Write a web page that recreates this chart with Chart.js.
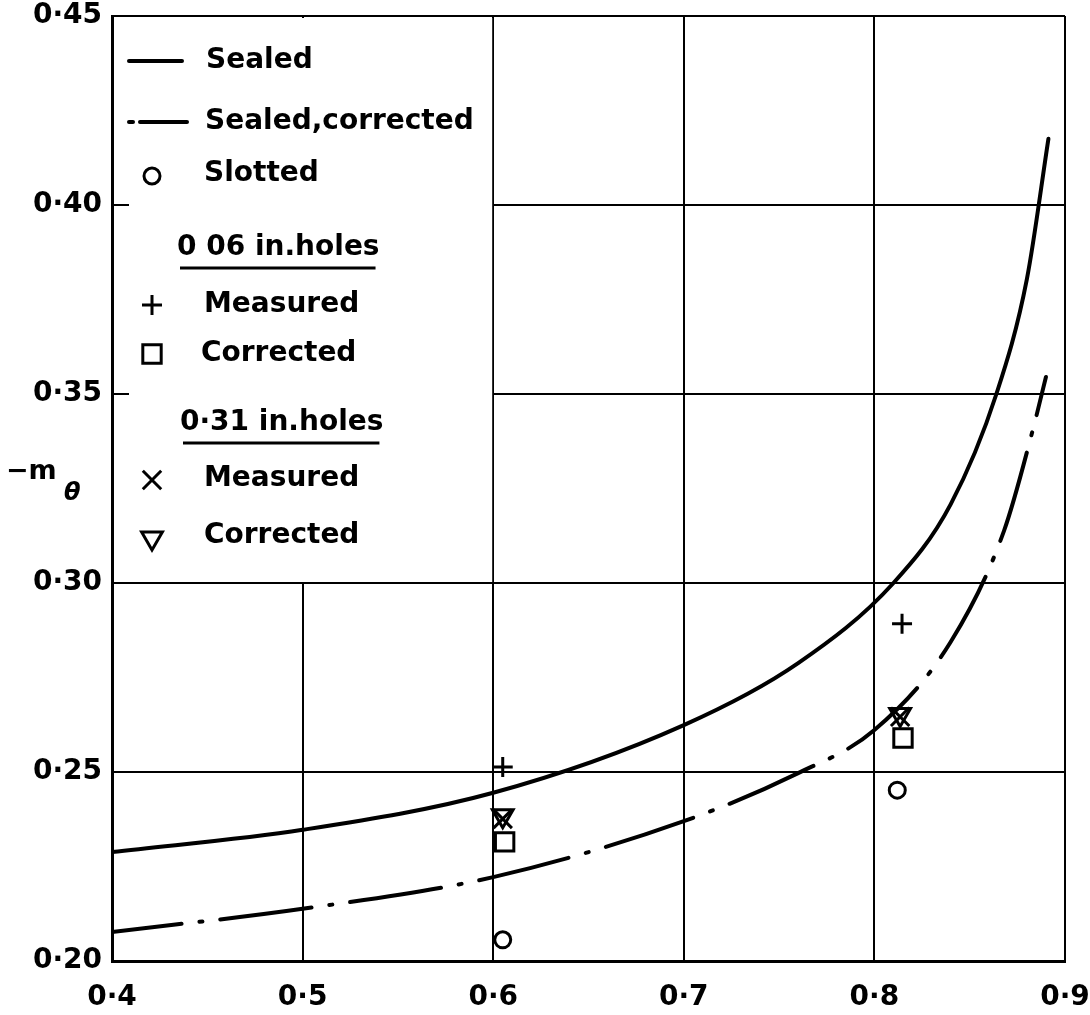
<!DOCTYPE html>
<html>
<head>
<meta charset="utf-8">
<script src="https://cdn.jsdelivr.net/npm/chart.js@4.4.1/dist/chart.umd.min.js"></script>
<style>
  html, body { margin: 0; padding: 0; background: #fff; }
  #wrap { width: 1090px; height: 1015px; }
</style>
</head>
<body>
<div id="wrap"><canvas id="c" width="1090" height="1015"></canvas></div>
<script>
// Axis tick labels
const xTickLabels = ['0·4', '0·5', '0·6', '0·7', '0·8', '0·9'];
const yTickLabels = ['0·20', '0·25', '0·30', '0·35', '0·40', '0·45'];

// Sealed tunnel curve
const sealedX = [0.400, 0.500, 0.600, 0.700, 0.760, 0.810, 0.840, 0.864, 0.880, 0.8913];
const sealedY = [0.2288, 0.2347, 0.2445, 0.2624, 0.2788, 0.3000, 0.3208, 0.3500, 0.3804, 0.4175];

// Sealed tunnel curve, corrected
const correctedX = [0.400, 0.500, 0.600, 0.700, 0.760, 0.800, 0.840, 0.868, 0.883, 0.890];
const correctedY = [0.2077, 0.2138, 0.2222, 0.2370, 0.2497, 0.2611, 0.2844, 0.3138, 0.3403, 0.3545];

// Slotted walls
const slottedX = [0.605, 0.812];
const slottedY = [0.2056, 0.2452];

// 0·06 in. holes
const holes06MeasuredX = [0.605, 0.8145];
const holes06MeasuredY = [0.2513, 0.2892];
const holes06CorrectedX = [0.606, 0.815];
const holes06CorrectedY = [0.2315, 0.2590];

// 0·31 in. holes
const holes31MeasuredX = [0.605, 0.8135];
const holes31MeasuredY = [0.2376, 0.2646];
const holes31CorrectedX = [0.605, 0.8135];
const holes31CorrectedY = [0.2384, 0.2652];

// Legend entries
const legendLabels = ['Sealed', 'Sealed,corrected', 'Slotted', '0 06 in.holes', 'Measured', 'Corrected', '0·31 in.holes', 'Measured', 'Corrected'];

const zip = (xs, ys) => xs.map((v, i) => ({ x: v, y: ys[i] }));

const INK = '#000';
const CLEAR = 'rgba(0,0,0,0)';
const TICK_FONT = { family: '"DejaVu Sans", sans-serif', size: 28, weight: 'bold' };
const LEGEND_FONT = 'bold 28px "DejaVu Sans", sans-serif';
const MARK_W = 3;

const styles = {
  slotted: { pointStyle: 'circle',   radius: 8,  rotation: 0 },
  meas06:  { pointStyle: 'cross',    radius: 10, rotation: 0 },
  corr06:  { pointStyle: 'rect',     radius: 13, rotation: 0 },
  meas31:  { pointStyle: 'crossRot', radius: 13, rotation: 0 },
  corr31:  { pointStyle: 'triangle', radius: 12, rotation: 180 }
};

function markerSet(label, xs, ys, st) {
  return {
    label, data: zip(xs, ys), showLine: false,
    pointBorderColor: INK, pointBackgroundColor: CLEAR, pointBorderWidth: MARK_W,
    pointStyle: st.pointStyle, pointRadius: st.radius, pointRotation: st.rotation
  };
}

// long dash, gap, dot, gap (round caps lengthen each piece by the line width)
const DASH_DOT = [92, 18, 3, 18];

// Legend panel over the upper-left corner of the grid, plus inward ticks
const panelPlugin = {
  id: 'panel',
  beforeDatasetsDraw(chart) {
    const { ctx, chartArea: a, scales: { x, y } } = chart;
    const x6 = x.getPixelForValue(0.6);
    const y30 = y.getPixelForValue(0.30);
    ctx.save();
    ctx.fillStyle = '#fff';
    ctx.fillRect(a.left + 2, a.top + 2, x6 - 1 - (a.left + 2), y30 - 1 - (a.top + 2));

    ctx.strokeStyle = INK;
    ctx.lineWidth = 2;
    [0.40, 0.35].forEach(v => {
      const py = y.getPixelForValue(v);
      ctx.beginPath(); ctx.moveTo(a.left, py); ctx.lineTo(a.left + 17, py); ctx.stroke();
    });

    const L = a.left, T = a.top;
    const symX = L + 40, txtX = L + 94;
    ctx.font = LEGEND_FONT;
    ctx.fillStyle = INK;
    ctx.textBaseline = 'middle';
    ctx.textAlign = 'left';
    ctx.lineCap = 'round';

    // Sealed
    let ry = T + 45;
    ctx.lineWidth = 4;
    ctx.beginPath(); ctx.moveTo(L + 17, ry); ctx.lineTo(L + 70, ry); ctx.stroke();
    ctx.fillText(legendLabels[0], txtX, ry);

    // Sealed, corrected
    ry = T + 106;
    ctx.beginPath(); ctx.moveTo(L + 17, ry); ctx.lineTo(L + 21, ry); ctx.stroke();
    ctx.beginPath(); ctx.moveTo(L + 28, ry); ctx.lineTo(L + 75, ry); ctx.stroke();
    ctx.fillText(legendLabels[1], txtX - 1, ry);
    ctx.lineCap = 'butt';

    const sym = (st, px, py) => {
      ctx.save();
      ctx.lineWidth = MARK_W;
      ctx.strokeStyle = INK;
      ctx.fillStyle = CLEAR;
      Chart.helpers.drawPoint(ctx, {
        pointStyle: st.pointStyle, radius: st.radius, rotation: st.rotation, borderWidth: MARK_W
      }, px, py);
      ctx.restore();
    };

    const head = (text, hx, hy) => {
      ctx.fillText(text, hx, hy);
      const w = ctx.measureText(text).width;
      ctx.lineWidth = 3;
      ctx.beginPath(); ctx.moveTo(hx + 3, hy + 20); ctx.lineTo(hx + w - 4, hy + 20); ctx.stroke();
    };

    sym(styles.slotted, symX, T + 160);
    ctx.fillText(legendLabels[2], txtX - 2, T + 158);

    head(legendLabels[3], L + 65, T + 232);
    sym(styles.meas06, symX, T + 289);
    ctx.fillText(legendLabels[4], txtX - 2, T + 289);
    sym(styles.corr06, symX, T + 338);
    ctx.fillText(legendLabels[5], txtX - 5, T + 338);

    head(legendLabels[6], L + 68, T + 407);
    sym(styles.meas31, symX, T + 464);
    ctx.fillText(legendLabels[7], txtX - 2, T + 463);
    sym(styles.corr31, symX, T + 522);
    ctx.fillText(legendLabels[8], txtX - 2, T + 520);

    ctx.restore();
  },
  afterDraw(chart) {
    // y-axis title: −m with subscript θ
    const { ctx } = chart;
    ctx.save();
    ctx.fillStyle = INK;
    ctx.textBaseline = 'middle';
    ctx.textAlign = 'left';
    ctx.font = 'bold 27px "DejaVu Sans", sans-serif';
    ctx.fillText('−m', 6, 472);
    ctx.font = 'italic bold 24px "DejaVu Sans", sans-serif';
    ctx.fillText('θ', 64, 494);
    ctx.restore();
  }
};

new Chart(document.getElementById('c'), {
  type: 'scatter',
  data: {
    datasets: [
      {
        label: 'Sealed', data: zip(sealedX, sealedY), showLine: true,
        borderColor: INK, borderWidth: 4, pointRadius: 0, borderCapStyle: 'round',
        cubicInterpolationMode: 'monotone', fill: false
      },
      {
        label: 'Sealed, corrected', data: zip(correctedX, correctedY), showLine: true,
        borderColor: INK, borderWidth: 4, pointRadius: 0,
        borderDash: DASH_DOT, borderDashOffset: 22, borderCapStyle: 'round',
        cubicInterpolationMode: 'monotone', fill: false
      },
      markerSet('Slotted', slottedX, slottedY, styles.slotted),
      markerSet('0·06 in. holes, measured', holes06MeasuredX, holes06MeasuredY, styles.meas06),
      markerSet('0·06 in. holes, corrected', holes06CorrectedX, holes06CorrectedY, styles.corr06),
      markerSet('0·31 in. holes, measured', holes31MeasuredX, holes31MeasuredY, styles.meas31),
      markerSet('0·31 in. holes, corrected', holes31CorrectedX, holes31CorrectedY, styles.corr31)
    ]
  },
  options: {
    responsive: false,
    animation: false,
    layout: { padding: { top: 15, right: 25, left: 0, bottom: 0 } },
    plugins: { legend: { display: false }, tooltip: { enabled: false } },
    scales: {
      x: {
        type: 'linear', min: 0.4, max: 0.9,
        ticks: {
          stepSize: 0.1, color: INK, font: TICK_FONT, padding: 20, maxRotation: 0,
          callback: (v, i) => xTickLabels[i]
        },
        grid: { color: INK, lineWidth: 2, drawTicks: false },
        border: { display: true, color: INK, width: 3 },
        afterFit: s => { s.height = 54; s.paddingLeft = 0; s.paddingRight = 0; }
      },
      y: {
        type: 'linear', min: 0.2, max: 0.45,
        ticks: {
          stepSize: 0.05, color: INK, font: TICK_FONT, padding: 10,
          callback: (v, i) => yTickLabels[i]
        },
        grid: { color: INK, lineWidth: 2, drawTicks: false },
        border: { display: true, color: INK, width: 3 },
        afterFit: s => { s.width = 112; s.paddingTop = 0; s.paddingBottom = 0; }
      }
    }
  },
  plugins: [panelPlugin]
});
</script>
</body>
</html>
